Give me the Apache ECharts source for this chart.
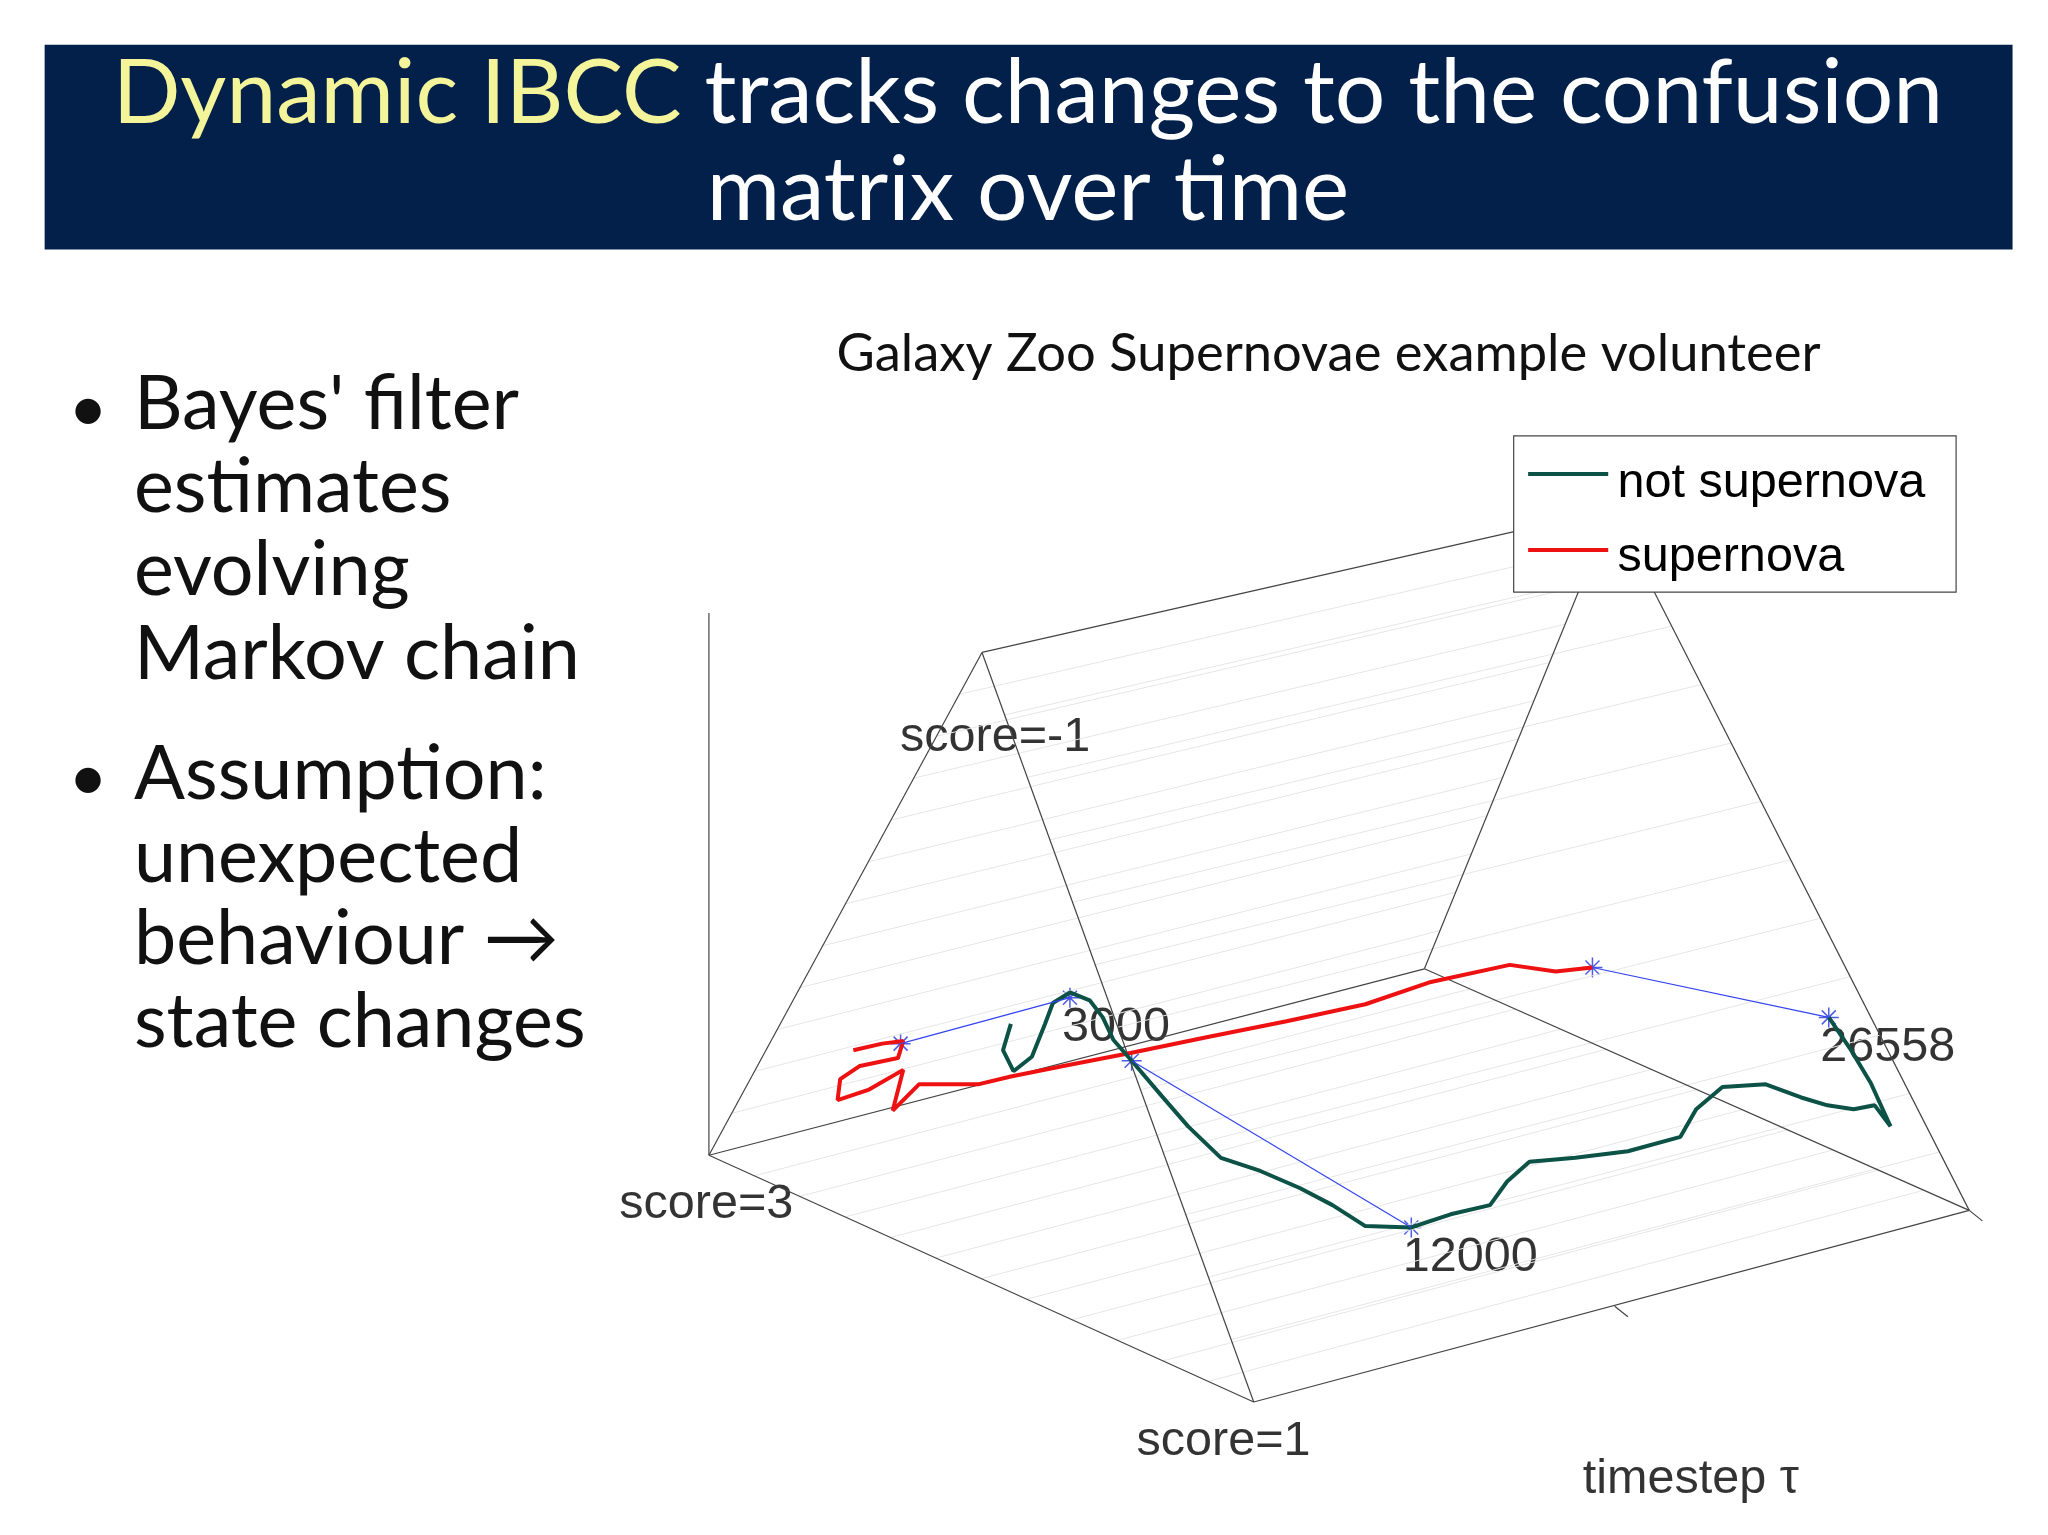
<!DOCTYPE html>
<html><head><meta charset="utf-8">
<script src="https://cdn.jsdelivr.net/npm/echarts@6/dist/echarts.min.js"></script>
<style>html,body{margin:0;background:#fff}#main{width:2048px;height:1535px}</style>
</head><body><div id="main"></div>
<script>
// all coordinates are in slide units (1560 x 1170), scaled to the canvas
const S = 2048 / 1560;

const notSupernova = [[770,780],[764,800],[772,816],[786,805],[796,780],[802,764],[815,756],[830,762],[840,775],[848,792],[862,808],[885,835],[905,858],[930,882],[960,892],[990,905],[1015,918],[1040,934],[1075,935],[1105,925],[1135,918],[1148,900],[1165,885],[1200,882],[1240,877],[1280,866],[1292,845],[1312,828],[1345,826],[1372,836],[1392,842],[1412,845],[1428,842],[1440,858],[1425,825],[1410,800],[1393,775]];
const supernova = [[650,800],[672,795],[688,793],[684,806],[655,812],[640,822],[638,838],[662,830],[688,815],[680,846],[700,826],[745,826],[770,820],[810,812],[862,802],[920,790],[980,778],[1040,765],[1090,748],[1150,735],[1185,740],[1213,737]];
const stateLinks = [[[686,795],[815,760]],[[862,808],[1075,935]],[[1213,737],[1393,775]]];
const stateMarks = [[686,795],[815,760],[862,808],[1075,935],[1213,737],[1393,775]];
const frame = [
  [[748,497],[540,880]],[[748,497],[955,1068]],[[540,880],[955,1068]],
  [[1228,388],[1085,738]],[[1228,388],[1500,922]],[[1085,738],[1500,922]],
  [[748,497],[1228,388]],[[540,880],[1085,738]],[[955,1068],[1500,922]],
  [[540,467],[540,880]],[[1500,922],[1510,930]],[[1230,995],[1240,1003]]
];
const plotLabels = [["score=-1",758,562],["3000",850,783],["12000",1120,958],["26558",1438,798],["score=3",538,918],["score=1",932,1098],["timestep \u03c4",1288,1127]];

// faint grid on faces
const faint = [];
for (let i = 1; i < 12; i++) {
  const t = i / 12;
  const lerp = (a, b) => [a[0] + (b[0] - a[0]) * t, a[1] + (b[1] - a[1]) * t];
  faint.push([lerp([748,497],[540,880]), lerp([1228,388],[1085,738])]);
  faint.push([lerp([748,497],[955,1068]), lerp([1228,388],[1500,922])]);
  faint.push([lerp([540,880],[955,1068]), lerp([1085,738],[1500,922])]);
}

const lineSeries = (segs, color, width) => segs.map(s => ({
  type: 'line', data: s, symbol: 'none', silent: true,
  lineStyle: { color, width }
}));

const txt = (text, x, y, size, fill, extra) => ({
  type: 'text', x: x * S, y: y * S, z: 100,
  style: Object.assign({ text, fill, font: `${size * S}px Lato`, textVerticalAlign: 'middle' }, extra || {})
});

const chart = echarts.init(document.getElementById('main'));
chart.setOption({
  animation: false,
  grid: { left: 0, right: 0, top: 0, bottom: 0 },
  xAxis: { type: 'value', min: 0, max: 1560, show: false },
  yAxis: { type: 'value', min: 0, max: 1169.3, inverse: true, show: false },
  series: [
    ...lineSeries(faint, '#e6e6e6', 1),
    ...lineSeries(frame, '#444', 1.2),
    { type: 'line', data: supernova, symbol: 'none', lineStyle: { color: '#ee1111', width: 4 } },
    { type: 'line', data: notSupernova, symbol: 'none', lineStyle: { color: '#0d5246', width: 4 } },
    ...lineSeries(stateLinks, '#3344ee', 1.2),
    { type: 'scatter', data: stateMarks, symbol: 'path://M0,-10L0,10M-10,0L10,0M-7,-7L7,7M-7,7L7,-7', symbolSize: 20,
      itemStyle: { color: 'none', borderColor: '#2233dd', borderWidth: 1.5 } },
    { type: 'scatter', data: plotLabels.map(l => [l[1], l[2], l[0]]), symbolSize: 0,
      label: { show: true, position: 'inside', formatter: p => p.data[2], color: '#000',
        fontFamily: 'Liberation Sans', fontSize: 37 * S } }
  ],
  graphic: [
    { type: 'rect', z: 100, shape: { x: 34 * S, y: 34 * S, width: 1499 * S, height: 156 * S }, style: { fill: '#03204a' } },
    { type: 'text', z: 101, x: 783 * S, y: 72 * S, style: { rich: {
        y: { fill: '#f4f49a', font: `${68 * S}px Lato` }, w: { fill: '#fff', font: `${68 * S}px Lato` } },
        text: '{y|Dynamic IBCC}{w| tracks changes to the confusion}', textAlign: 'center', textVerticalAlign: 'middle' } },
    Object.assign(txt('matrix over time', 783, 146, 68, '#fff', { textAlign: 'center' }), { z: 101 }),
    txt('Galaxy Zoo Supernovae example volunteer', 1012, 270, 40, '#111', { textAlign: 'center' }),
    txt('\u2022', 52, 312, 52, '#111'),
    txt('\u2022', 52, 593, 52, '#111'),
    ...['Bayes\' filter', 'estimates', 'evolving', 'Markov chain'].map((s, i) => txt(s, 102, 308 + i * 63.5, 57.5, '#111')),
    ...['Assumption:', 'unexpected', 'behaviour \u2192', 'state changes'].map((s, i) => txt(s, 102, 590 + i * 63, 57.5, '#111')),
    { type: 'rect', z: 100, shape: { x: 1153 * S, y: 332 * S, width: 337 * S, height: 119 * S }, style: { fill: '#fff', stroke: '#444', lineWidth: 1.2 } },
    { type: 'line', z: 101, shape: { x1: 1164 * S, y1: 361 * S, x2: 1225 * S, y2: 361 * S }, style: { stroke: '#0d5246', lineWidth: 4 } },
    { type: 'line', z: 101, shape: { x1: 1164 * S, y1: 419 * S, x2: 1225 * S, y2: 419 * S }, style: { stroke: '#ee1111', lineWidth: 4 } },
    { type: 'text', z: 101, x: 1232 * S, y: 368 * S, style: { text: 'not supernova', fill: '#000', font: `${37 * S}px "Liberation Sans"`, textVerticalAlign: 'middle' } },
    { type: 'text', z: 101, x: 1232 * S, y: 425 * S, style: { text: 'supernova', fill: '#000', font: `${37 * S}px "Liberation Sans"`, textVerticalAlign: 'middle' } }
  ]
});
</script></body></html>
